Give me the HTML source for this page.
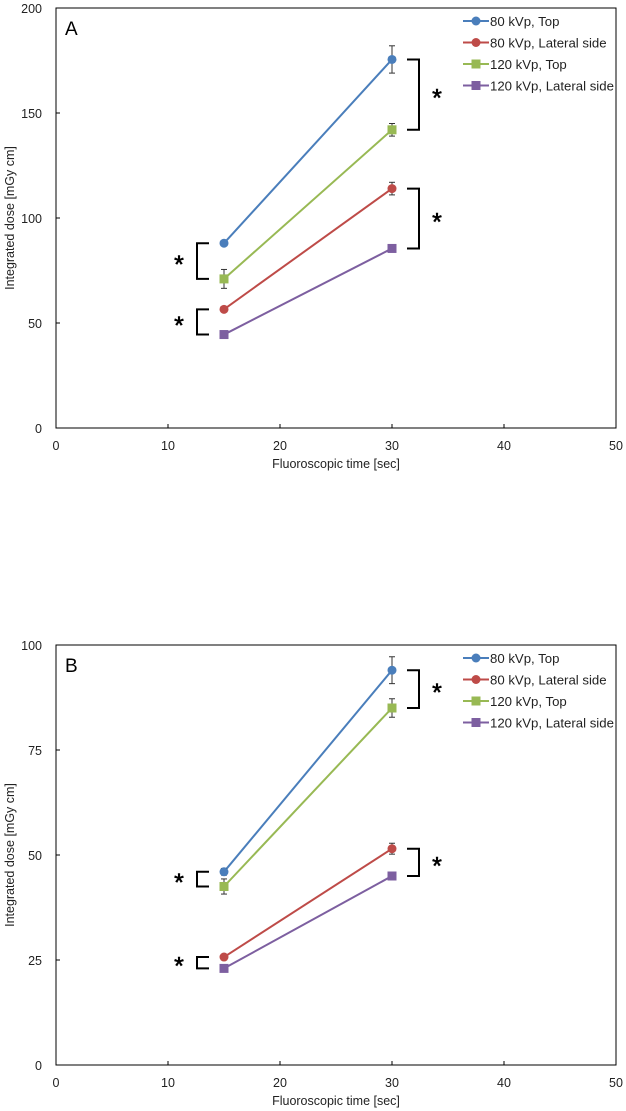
<!DOCTYPE html>
<html><head><meta charset="utf-8"><style>
body{margin:0;background:#fff;}
svg{display:block;font-family:"Liberation Sans",Arial,sans-serif;}
</style></head><body>
<svg id="fig" width="626" height="1111" viewBox="0 0 626 1111"></svg>
<script>
const xCategories=[15,30];
const xTicks=[0,10,20,30,40,50];
const seriesNames=["80 kVp, Top","80 kVp, Lateral side","120 kVp, Top","120 kVp, Lateral side"];
const seriesColors=["#4a7ebb","#be4b48","#98b954","#7d5fa0"];
const seriesMarkers=["circle","circle","square","square"];
const yTicksA=[0,50,100,150,200];
const valsA_80Top=[88,175.5];
const valsA_80Lat=[56.5,114];
const valsA_120Top=[71,142];
const valsA_120Lat=[44.5,85.5];
const errA_80Top=[1,6.5];
const errA_80Lat=[1,3];
const errA_120Top=[4.5,3];
const errA_120Lat=[1,1];
const yTicksB=[0,25,50,75,100];
const valsB_80Top=[46,94];
const valsB_80Lat=[25.7,51.5];
const valsB_120Top=[42.5,85];
const valsB_120Lat=[23,45];
const errB_80Top=[0.8,3.2];
const errB_80Lat=[0.6,1.3];
const errB_120Top=[1.8,2.2];
const errB_120Lat=[0.5,0.5];
// significance pairs: [x index, series a, series b]
const sigPairs=[[0,0,2],[0,1,3],[1,0,2],[1,1,3]];

const NS="http://www.w3.org/2000/svg";
const svg=document.getElementById('fig');
function mk(tag,attrs,parent){const e=document.createElementNS(NS,tag);for(const k in attrs)e.setAttribute(k,attrs[k]);(parent||svg).appendChild(e);return e;}

function drawChart(id,letter,top,yTicks,vals,errs,sigs){
  const L=56,R=616,B=top+420,yMax=yTicks[yTicks.length-1];
  const sx=v=>L+(v-0)/50*(R-L);
  const sy=v=>B-v/yMax*420;
  const g=mk('g',{});
  
  
  const fr=mk('rect',{x:L,y:top,width:R-L,height:420,fill:'none',stroke:'#000','stroke-width':1},g);
  
  const lt=mk('text',{x:L+9,y:top+27,'font-size':19,fill:'#000'},g);lt.textContent=letter;
  
  yTicks.forEach(t=>{
    const tx=mk('text',{x:L-14,y:sy(t)+5,'font-size':12.5,fill:'#222','text-anchor':'end'},g);tx.textContent=t;
    
    mk('line',{x1:L,x2:L+4,y1:sy(t),y2:sy(t),stroke:'#000'},g);
  });
  xTicks.forEach(t=>{
    const tx=mk('text',{x:sx(t),y:B+22,'font-size':12.5,fill:'#222','text-anchor':'middle'},g);tx.textContent=t;
    
    mk('line',{x1:sx(t),x2:sx(t),y1:B,y2:B-4,stroke:'#000'},g);
  });
  const xt=mk('text',{x:(L+R)/2,y:B+40,'font-size':12.5,fill:'#222','text-anchor':'middle'},g);xt.textContent='Fluoroscopic time [sec]';
  
  const ym=top+210;
  const yt=mk('text',{x:14,y:ym,'font-size':12.5,fill:'#222','text-anchor':'middle',transform:`rotate(-90 14 ${ym})`},g);yt.textContent='Integrated dose [mGy cm]';
  
  vals.forEach((s,i)=>{
    const c=seriesColors[i];
    const sg=mk('g',{},g);
    
    
    mk('polyline',{points:s.map((v,j)=>sx(xCategories[j])+','+sy(v)).join(' '),fill:'none',stroke:c,'stroke-width':2},sg);
    s.forEach((v,j)=>{
      const x=sx(xCategories[j]),y=sy(v),e=errs[i][j];
      mk('line',{x1:x,x2:x,y1:sy(v+e),y2:sy(v-e),stroke:'#333','stroke-width':1},sg);
      mk('line',{x1:x-3,x2:x+3,y1:sy(v+e),y2:sy(v+e),stroke:'#333'},sg);
      mk('line',{x1:x-3,x2:x+3,y1:sy(v-e),y2:sy(v-e),stroke:'#333'},sg);
      let m;
      if(seriesMarkers[i]==='circle')m=mk('circle',{cx:x,cy:y,r:4.5,fill:c},sg);
      else m=mk('rect',{x:x-4.5,y:y-4.5,width:9,height:9,fill:c},sg);
      
    });
  });
  sigs.forEach(p=>{
    const [xi,a,b]=p;
    const y1=sy(vals[a][xi]),y2=sy(vals[b][xi]);
    const bg=mk('g',{},g);
    
    let x0,x1,ax;
    if(xi===0){x0=sx(xCategories[0])-15;x1=sx(xCategories[0])-27;ax=x1-18;}
    else{x0=sx(xCategories[1])+15;x1=sx(xCategories[1])+27;ax=x1+18;}
    mk('polyline',{points:`${x0},${y1} ${x1},${y1} ${x1},${y2} ${x0},${y2}`,fill:'none',stroke:'#000','stroke-width':2},bg);
    const st=mk('text',{x:ax,y:(y1+y2)/2+12,'font-size':25,'text-anchor':'middle',fill:'#000','stroke':'#000','stroke-width':0.6},bg);st.textContent='*';
  });
  const lg=mk('g',{},g);
  
  seriesNames.forEach((n,i)=>{
    const y=top+13+i*21.5,c=seriesColors[i];
    const eg=mk('g',{},lg);
    
    mk('line',{x1:463,x2:489,y1:y,y2:y,stroke:c,'stroke-width':2},eg);
    if(seriesMarkers[i]==='circle')mk('circle',{cx:476,cy:y,r:4.5,fill:c},eg);
    else mk('rect',{x:471.5,y:y-4.5,width:9,height:9,fill:c},eg);
    const t=mk('text',{x:490,y:y+5,'font-size':13.2,fill:'#222'},eg);t.textContent=n;
  });
}
drawChart('a','A',8,yTicksA,[valsA_80Top,valsA_80Lat,valsA_120Top,valsA_120Lat],[errA_80Top,errA_80Lat,errA_120Top,errA_120Lat],sigPairs);
drawChart('b','B',645,yTicksB,[valsB_80Top,valsB_80Lat,valsB_120Top,valsB_120Lat],[errB_80Top,errB_80Lat,errB_120Top,errB_120Lat],sigPairs);
</script>
</body></html>
